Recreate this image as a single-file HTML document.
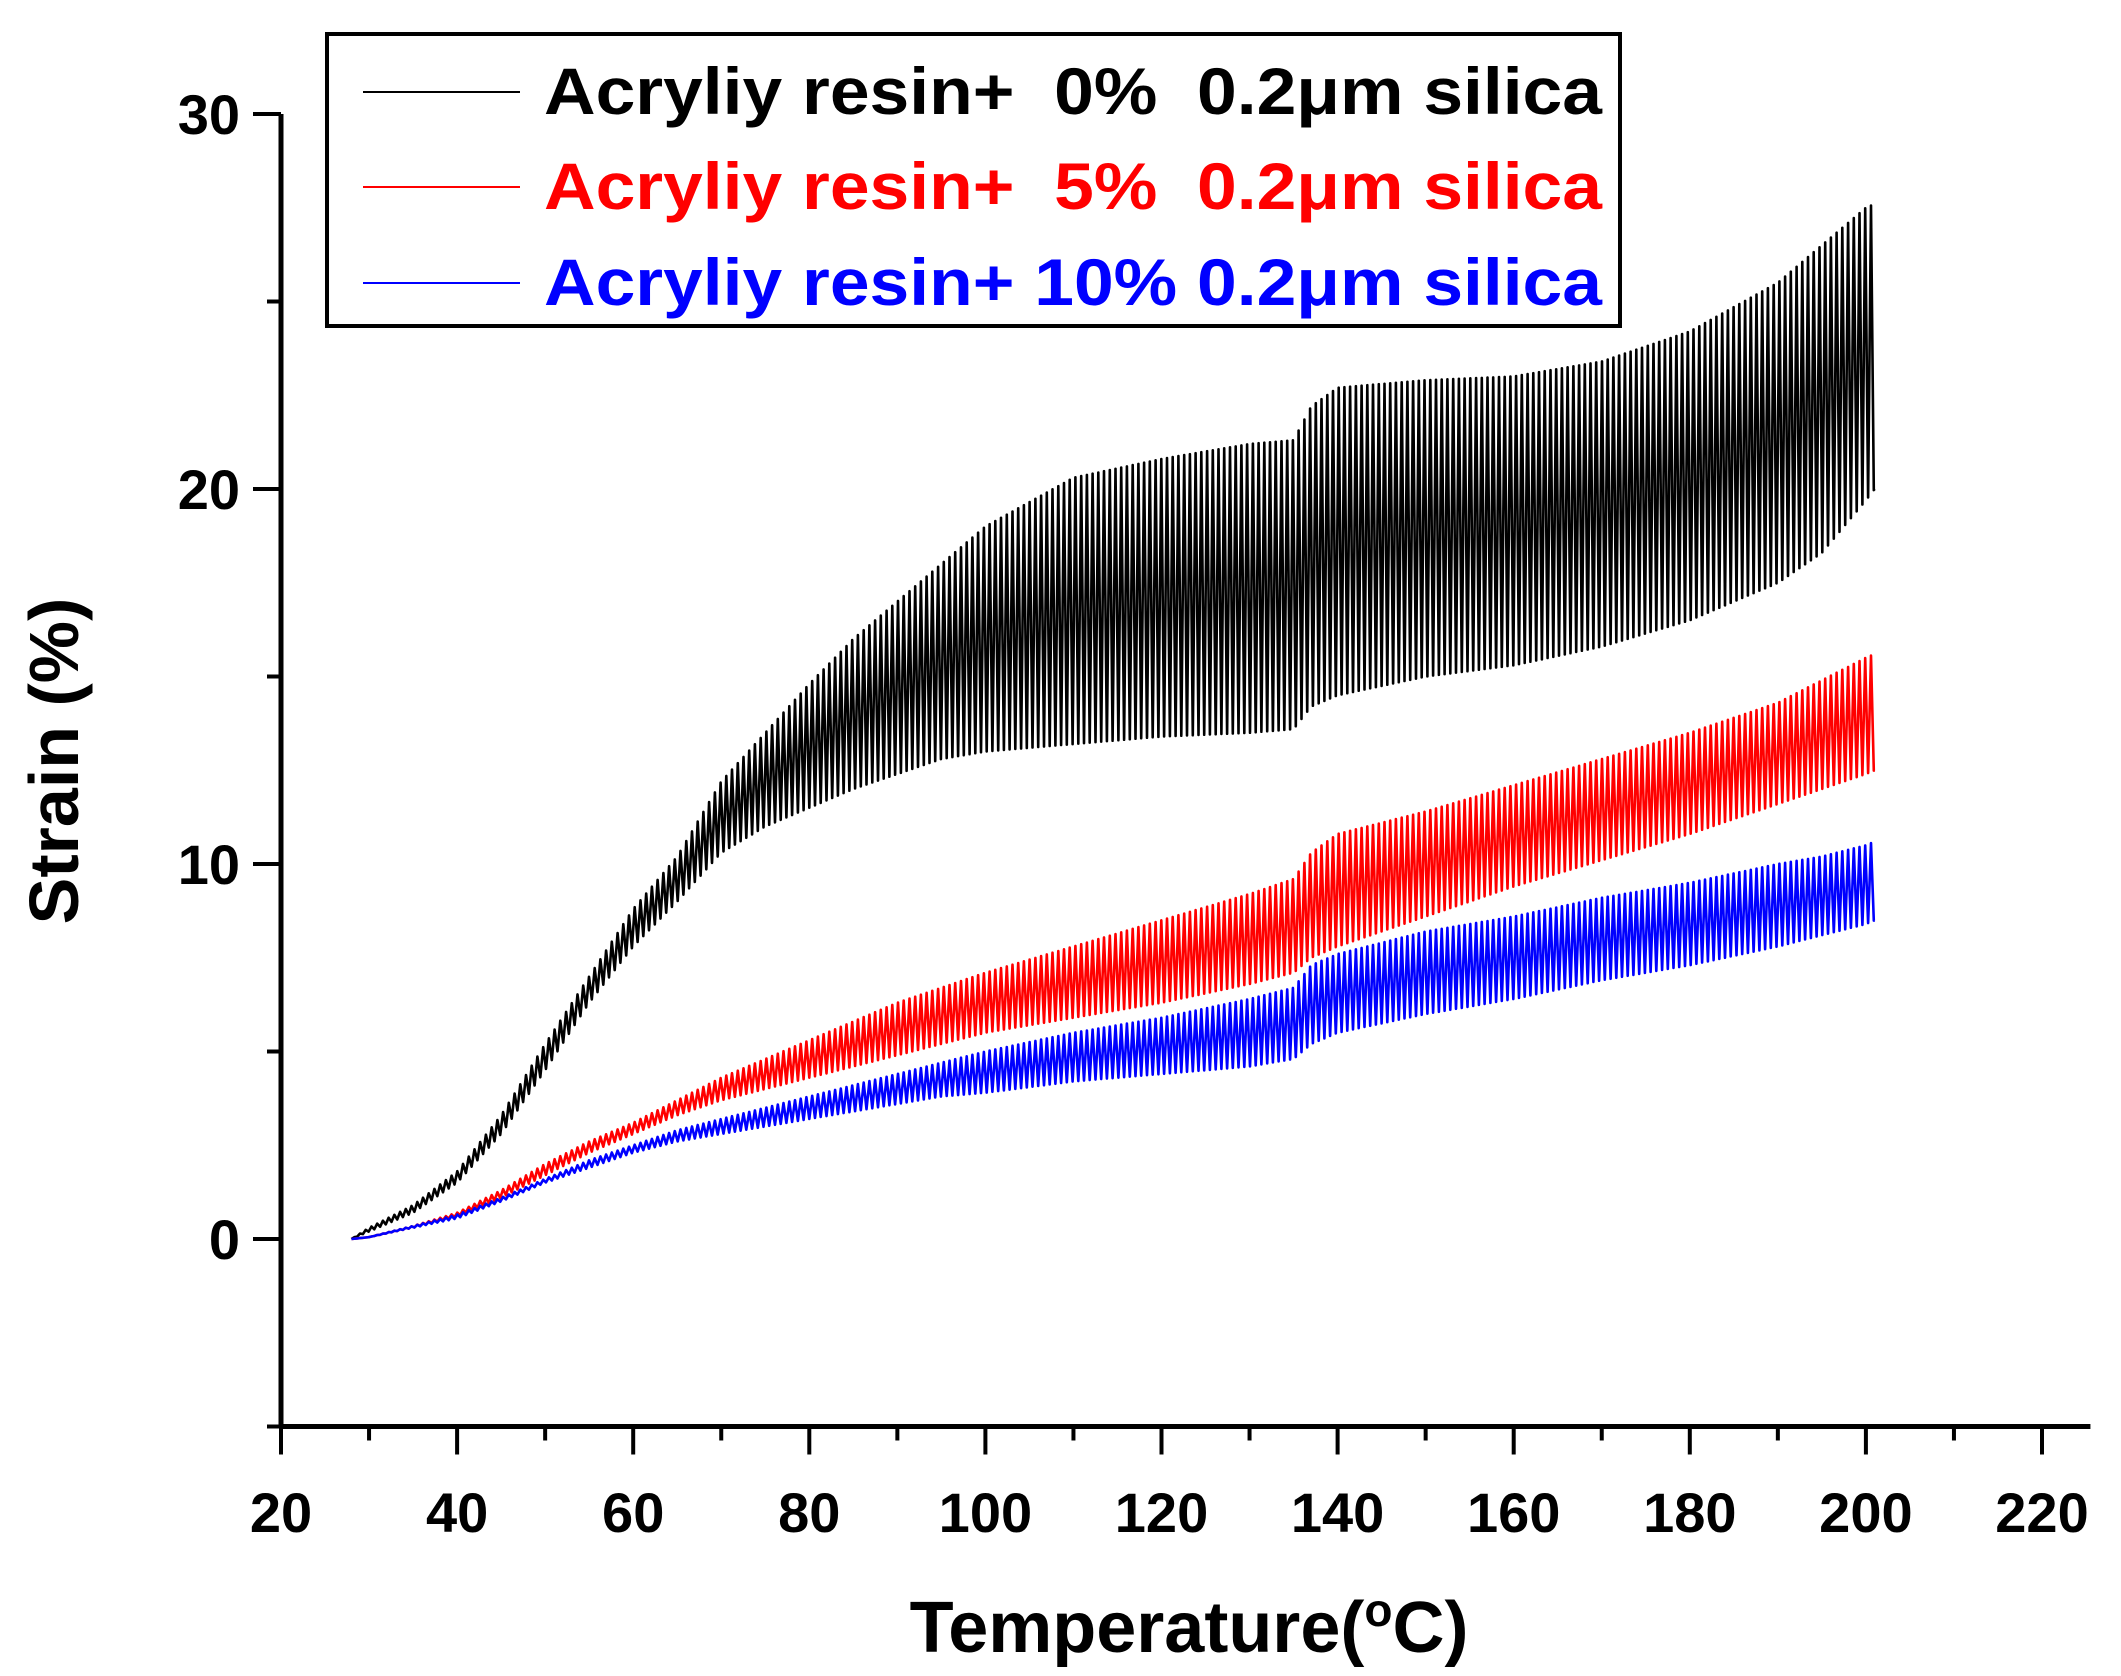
<!DOCTYPE html>
<html><head><meta charset="utf-8"><style>
html,body{margin:0;padding:0;background:#fff}
svg{display:block}
text{font-family:"Liberation Sans",Arial,sans-serif;font-weight:bold}
</style></head><body>
<svg id="chart" width="2121" height="1676" viewBox="0 0 2121 1676" xmlns="http://www.w3.org/2000/svg">
<rect width="2121" height="1676" fill="#fff"/>
<g id="axes"></g>
<g id="series"></g>
<text x="1189" y="1652" font-size="72" text-anchor="middle">Temperature(<tspan font-size="46" dy="-26">o</tspan><tspan dy="26">C)</tspan></text>
<text transform="translate(78,761) rotate(-90)" font-size="70" text-anchor="middle">Strain (%)</text>
<g>
<rect x="327" y="34" width="1293" height="292" fill="#fff" stroke="#000" stroke-width="4"/>
<line x1="363" y1="92" x2="520" y2="92" stroke="#000" stroke-width="2"/>
<text x="544" y="114" font-size="66" fill="#000" textLength="1058" lengthAdjust="spacingAndGlyphs" xml:space="preserve">Acryliy resin+  0%  0.2μm silica</text>
<line x1="363" y1="187" x2="520" y2="187" stroke="#f00" stroke-width="2"/>
<text x="544" y="209" font-size="66" fill="#f00" textLength="1058" lengthAdjust="spacingAndGlyphs" xml:space="preserve">Acryliy resin+  5%  0.2μm silica</text>
<line x1="363" y1="283" x2="520" y2="283" stroke="#00f" stroke-width="2"/>
<text x="544" y="305" font-size="66" fill="#00f" textLength="1058" lengthAdjust="spacingAndGlyphs" xml:space="preserve">Acryliy resin+ 10% 0.2μm silica</text>
</g>
</svg>
<script>
const temps = [28,30,35,40,45,50,55,60,65,70,75,80,85,90,95,100,110,120,130,135,137,140,150,160,170,180,190,195,200,201];
const blackLower = [0,0.2,0.7,1.5,2.8,4.5,6.3,7.8,9.0,10.3,11.0,11.5,12.0,12.4,12.8,13.0,13.2,13.4,13.5,13.6,14.2,14.5,15.0,15.3,15.8,16.5,17.5,18.3,19.7,20];
const blackUpper = [0,0.3,0.9,1.8,3.3,5.2,7.0,8.8,10.2,12.2,13.5,14.8,16.0,17.0,18.0,19.0,20.3,20.8,21.2,21.3,22.2,22.7,22.9,23.0,23.4,24.2,25.5,26.5,27.5,27.6];
const redLower = [0,0.05,0.3,0.6,1.1,1.7,2.3,2.8,3.3,3.7,4.0,4.3,4.6,4.9,5.2,5.5,5.9,6.3,6.8,7.1,7.5,7.8,8.6,9.4,10.1,10.8,11.6,12.0,12.4,12.5];
const redUpper = [0,0.05,0.35,0.7,1.3,2.0,2.6,3.1,3.7,4.3,4.8,5.3,5.8,6.3,6.7,7.1,7.8,8.5,9.2,9.6,10.3,10.8,11.4,12.1,12.8,13.5,14.3,14.9,15.5,15.6];
const blueLower = [0,0.05,0.3,0.55,1.0,1.5,1.9,2.3,2.6,2.8,3.0,3.2,3.4,3.6,3.8,3.9,4.2,4.4,4.6,4.8,5.2,5.5,6.0,6.4,6.9,7.3,7.8,8.1,8.4,8.5];
const blueUpper = [0,0.05,0.35,0.65,1.1,1.6,2.1,2.5,2.9,3.2,3.5,3.8,4.1,4.4,4.7,5.0,5.5,5.9,6.4,6.7,7.3,7.6,8.2,8.6,9.1,9.5,10.0,10.2,10.5,10.6];
const xTicks = [20,40,60,80,100,120,140,160,180,200,220];
const yTicks = [0,10,20,30];
const period = 0.65;

const NS = "http://www.w3.org/2000/svg";
const X0 = 281, XS = 8.805, Y0 = 1239, YS = 37.5;
function xs(v){ return X0 + (v - 20) * XS; }
function ys(v){ return Y0 - v * YS; }
function mk(tag, attrs, parent){ const e = document.createElementNS(NS, tag); for (const k in attrs) e.setAttribute(k, attrs[k]); parent.appendChild(e); return e; }
const axes = document.getElementById('axes');
const series = document.getElementById('series');

const xAxis = mk('line', {x1: xs(20)-2, y1: ys(-5), x2: xs(225.5), y2: ys(-5), stroke: '#000', 'stroke-width': 5}, axes);


const yAxis = mk('line', {x1: xs(20), y1: ys(-5)+2, x2: xs(20), y2: ys(30), stroke: '#000', 'stroke-width': 5}, axes);



for (let v = 20; v <= 220; v += 10) {
  const major = xTicks.includes(v);
  const t = mk('line', {x1: xs(v), y1: ys(-5), x2: xs(v), y2: ys(-5) + (major ? 28 : 14), stroke: '#000', 'stroke-width': 4}, axes);
  
  
}
xTicks.forEach(v => {
  const l = mk('text', {x: xs(v), y: 1532, 'font-size': 56, 'text-anchor': 'middle'}, axes);
  l.textContent = v;
  
  
});
for (let v = -5; v <= 30; v += 5) {
  const major = yTicks.includes(v);
  const t = mk('line', {x1: xs(20), y1: ys(v), x2: xs(20) - (major ? 28 : 14), y2: ys(v), stroke: '#000', 'stroke-width': 4}, axes);
  
  
}
yTicks.forEach(v => {
  const l = mk('text', {x: 240, y: ys(v) + 20, 'font-size': 56, 'text-anchor': 'end'}, axes);
  l.textContent = v;
  
  
});

function env(arr, t){
  for (let i = 0; i < temps.length - 1; i++) {
    if (t <= temps[i+1]) { const f = (t - temps[i]) / (temps[i+1] - temps[i]); return arr[i] + f * (arr[i+1] - arr[i]); }
  }
  return arr[arr.length - 1];
}
function drawSeries(lower, upper, color, name){
  let d = 'M' + xs(temps[0]).toFixed(1) + ',' + ys(lower[0]).toFixed(1);
  const tEnd = temps[temps.length - 1];
  for (let t = temps[0] + period/2; t <= tEnd; t += period/2) {
    const k = Math.round((t - temps[0]) / (period/2));
    const v = (k % 2 === 1) ? env(upper, t) : env(lower, t);
    d += 'L' + xs(t).toFixed(1) + ',' + ys(v).toFixed(1);
  }
  d += 'L' + xs(tEnd).toFixed(1) + ',' + ys(lower[lower.length-1]).toFixed(1);
  const p = mk('path', {d: d, fill: 'none', stroke: color, 'stroke-width': 2.6, 'stroke-linejoin': 'round'}, series);
  
  
}
drawSeries(blackLower, blackUpper, '#000', 'series-0pct-silica');
drawSeries(redLower, redUpper, '#f00', 'series-5pct-silica');
drawSeries(blueLower, blueUpper, '#00f', 'series-10pct-silica');
</script>
</body></html>
